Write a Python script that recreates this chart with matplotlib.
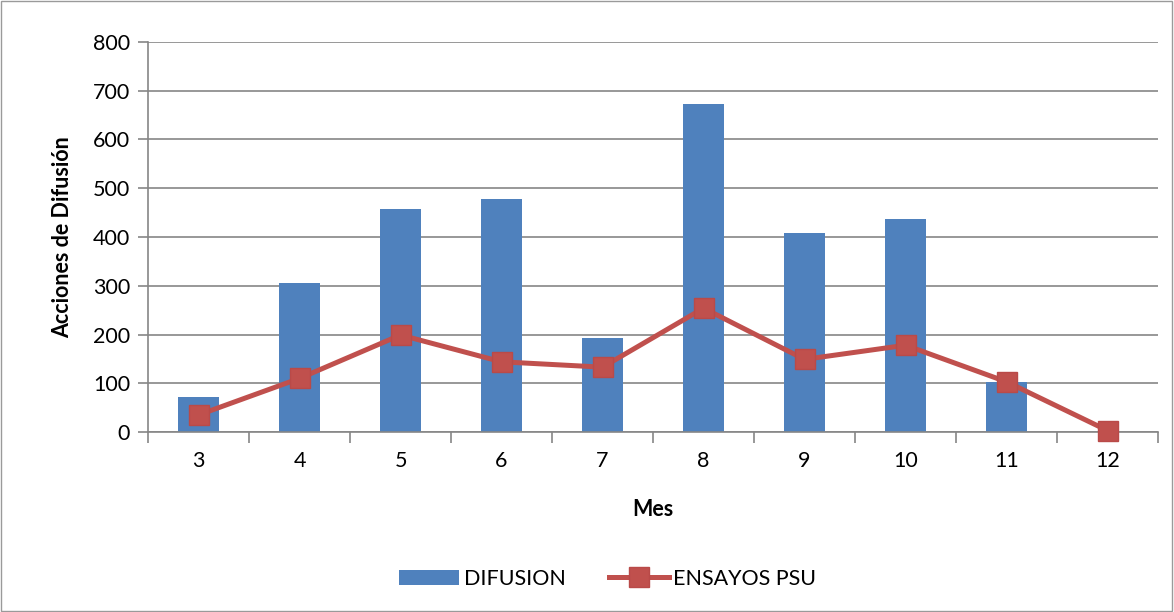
import matplotlib.pyplot as plt
import matplotlib.patches as patches
import numpy as np

meses = ['3', '4', '5', '6', '7', '8', '9', '10', '11', '12']
difusion = [71, 306, 458, 477, 192, 672, 409, 436, 103, 0]
ensayos_psu = [35, 110, 199, 144, 133, 254, 149, 178, 103, 3]

plt.rcParams['font.family'] = ['Lato', 'DejaVu Sans']

fig = plt.figure(figsize=(11.74, 6.12), dpi=100)
ax = fig.add_axes([0.1261, 0.2941, 0.8603, 0.6373])

x = np.arange(len(meses))
bars = ax.bar(x, difusion, width=0.4, color='#4F81BD', label='DIFUSION', zorder=2)
line, = ax.plot(x, ensayos_psu, color='#C0504D', lw=3.6, marker='s', markersize=14,
                markerfacecolor='#C0504D', markeredgecolor='#B94A48', label='ENSAYOS PSU',
                zorder=3, clip_on=False)

ax.set_xlim(-0.5, len(meses) - 0.5)
ax.set_ylim(0, 800)
ax.set_yticks(range(0, 801, 100))
ax.yaxis.grid(True, color='#868686', lw=1.2)
ax.set_axisbelow(True)

ax.set_xticks(x)
ax.set_xticklabels(meses)
ax.set_xticks(np.arange(-0.5, len(meses)), minor=True)
ax.tick_params(axis='x', which='major', length=0, pad=14, labelsize=15.5)
ax.tick_params(axis='x', which='minor', length=8, color='#868686', width=1.2)
ax.tick_params(axis='y', length=7, color='#868686', width=1.2, labelsize=15.5, pad=6)

for side in ['top', 'right']:
    ax.spines[side].set_visible(False)
ax.spines['left'].set_color('#868686')
ax.spines['bottom'].set_color('#868686')
ax.spines['left'].set_linewidth(1.2)
ax.spines['bottom'].set_linewidth(1.2)

ax.set_xlabel('Mes', fontsize=15.5, fontweight='bold', labelpad=20)
ax.set_ylabel('Acciones de Difusión', fontsize=15.5, fontweight='bold', labelpad=14)

ax.legend(handles=[bars, line], loc='center', bbox_to_anchor=(0.455, -0.376), ncol=2,
          frameon=False, fontsize=15.5, handlelength=2.8, columnspacing=2.0, handletextpad=0.2)

fig.patches.append(patches.Rectangle((0.001, 0.002), 0.997, 0.996, transform=fig.transFigure,
                                     fill=False, edgecolor='#9a9a9a', lw=1))

fig.savefig('out.png', dpi=100)
